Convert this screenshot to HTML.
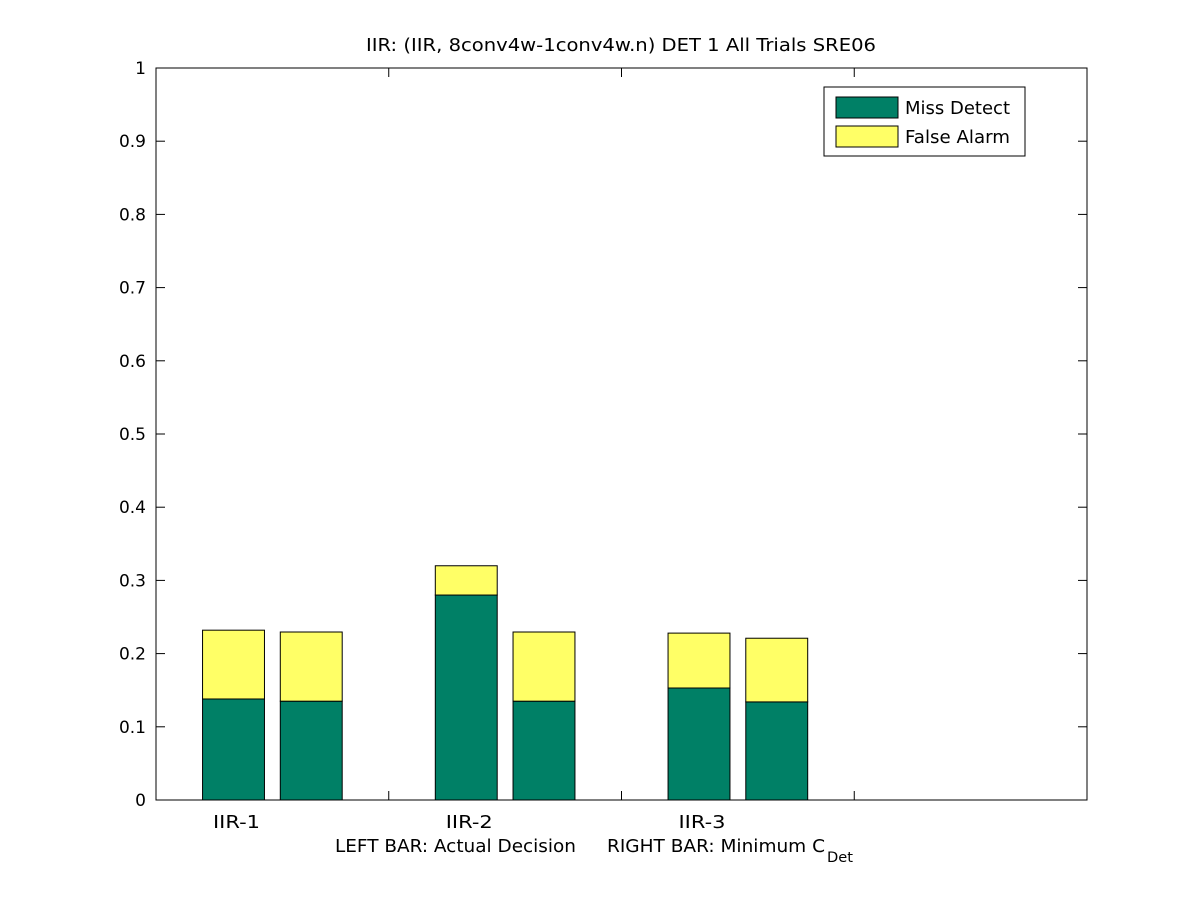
<!DOCTYPE html>
<html><head><meta charset="utf-8"><style>
body{margin:0;background:#fff;}
svg text{font-family:"DejaVu Sans","Liberation Sans",sans-serif;fill:#000;}
</style></head><body>
<svg id="chart" width="1201" height="900">
<rect x="0" y="0" width="1201" height="900" fill="#fff"/>
</svg>
<script>
const categories = ["IIR-1","IIR-2","IIR-3"];
const missLeft = [0.138, 0.280, 0.153];
const faLeft = [0.094, 0.040, 0.075];
const missRight = [0.135, 0.135, 0.134];
const faRight = [0.0945, 0.0945, 0.087];
const yTicks = [0,0.1,0.2,0.3,0.4,0.5,0.6,0.7,0.8,0.9,1];
const yTickLabels = ["0","0.1","0.2","0.3","0.4","0.5","0.6","0.7","0.8","0.9","1"];
const xTicks = [1,2,3];

const L=156,R=1087,T=68,B=800;
const xs=v=>L+(R-L)*v/4;
const ys=v=>B-(B-T)*v;
const svg=document.getElementById('chart');
const NS='http://www.w3.org/2000/svg';
function mk(tag,attrs,parent){const e=document.createElementNS(NS,tag);for(const k in attrs)e.setAttribute(k,attrs[k]);(parent||svg).appendChild(e);return e;}

const frame=mk('rect',{x:L,y:T,width:R-L,height:B-T,fill:'#fff',stroke:'#000','stroke-width':1});



yTicks.forEach((v,i)=>{
  const y=ys(v);
  mk('line',{x1:L,y1:y,x2:L+9,y2:y,stroke:'#000'});
  mk('line',{x1:R,y1:y,x2:R-9,y2:y,stroke:'#000'});
  const t=mk('text',{x:L-10,y:y+6,'text-anchor':'end','font-size':17});
  t.textContent=yTickLabels[i];
  
  
});
xTicks.forEach(v=>{
  const x=xs(v);
  mk('line',{x1:x,y1:B,x2:x,y2:B-9,stroke:'#000'});
  mk('line',{x1:x,y1:T,x2:x,y2:T+9,stroke:'#000'});
});

const off=0.167,bw=0.266;
function bar(center,miss,fa,name){
  const x=xs(center-bw/2),w=xs(center+bw/2)-x;
  const r1=mk('rect',{x:x,y:ys(miss),width:w,height:ys(0)-ys(miss),fill:'#008066',stroke:'#000'});
  
  
  const r2=mk('rect',{x:x,y:ys(miss+fa),width:w,height:ys(miss)-ys(miss+fa),fill:'#ffff66',stroke:'#000'});
  
  
}
categories.forEach((c,i)=>{
  const g=i+0.5;
  bar(g-off,missLeft[i],faLeft[i],c.toLowerCase()+'-left');
  bar(g+off,missRight[i],faRight[i],c.toLowerCase()+'-right');
  const t=mk('text',{x:xs(g-off)+3,y:828,'text-anchor':'middle','font-size':18,textLength:47,lengthAdjust:'spacingAndGlyphs'});
  t.textContent=c;
  
  
});
</script>
<svg style="position:absolute;left:0;top:0" width="1201" height="900">
<text x="366" y="51" font-size="18" textLength="510" lengthAdjust="spacingAndGlyphs">IIR: (IIR, 8conv4w-1conv4w.n) DET 1 All Trials SRE06</text>
<text x="335" y="852" font-size="18" textLength="241" lengthAdjust="spacingAndGlyphs">LEFT BAR: Actual Decision</text>
<text x="607" y="852" font-size="18" textLength="218" lengthAdjust="spacingAndGlyphs">RIGHT BAR: Minimum C</text>
<text x="827" y="862" font-size="14" textLength="26" lengthAdjust="spacingAndGlyphs">Det</text>
<g>
<rect x="824" y="87" width="201" height="69" fill="#fff" stroke="#000"/>
<rect x="836" y="97" width="62" height="21" fill="#008066" stroke="#000"/>
<text x="905" y="114" font-size="18" textLength="105" lengthAdjust="spacingAndGlyphs">Miss Detect</text>
<rect x="836" y="126" width="62" height="21" fill="#ffff66" stroke="#000"/>
<text x="905" y="143" font-size="18" textLength="105" lengthAdjust="spacingAndGlyphs">False Alarm</text>
</g>
</svg>
</body></html>
